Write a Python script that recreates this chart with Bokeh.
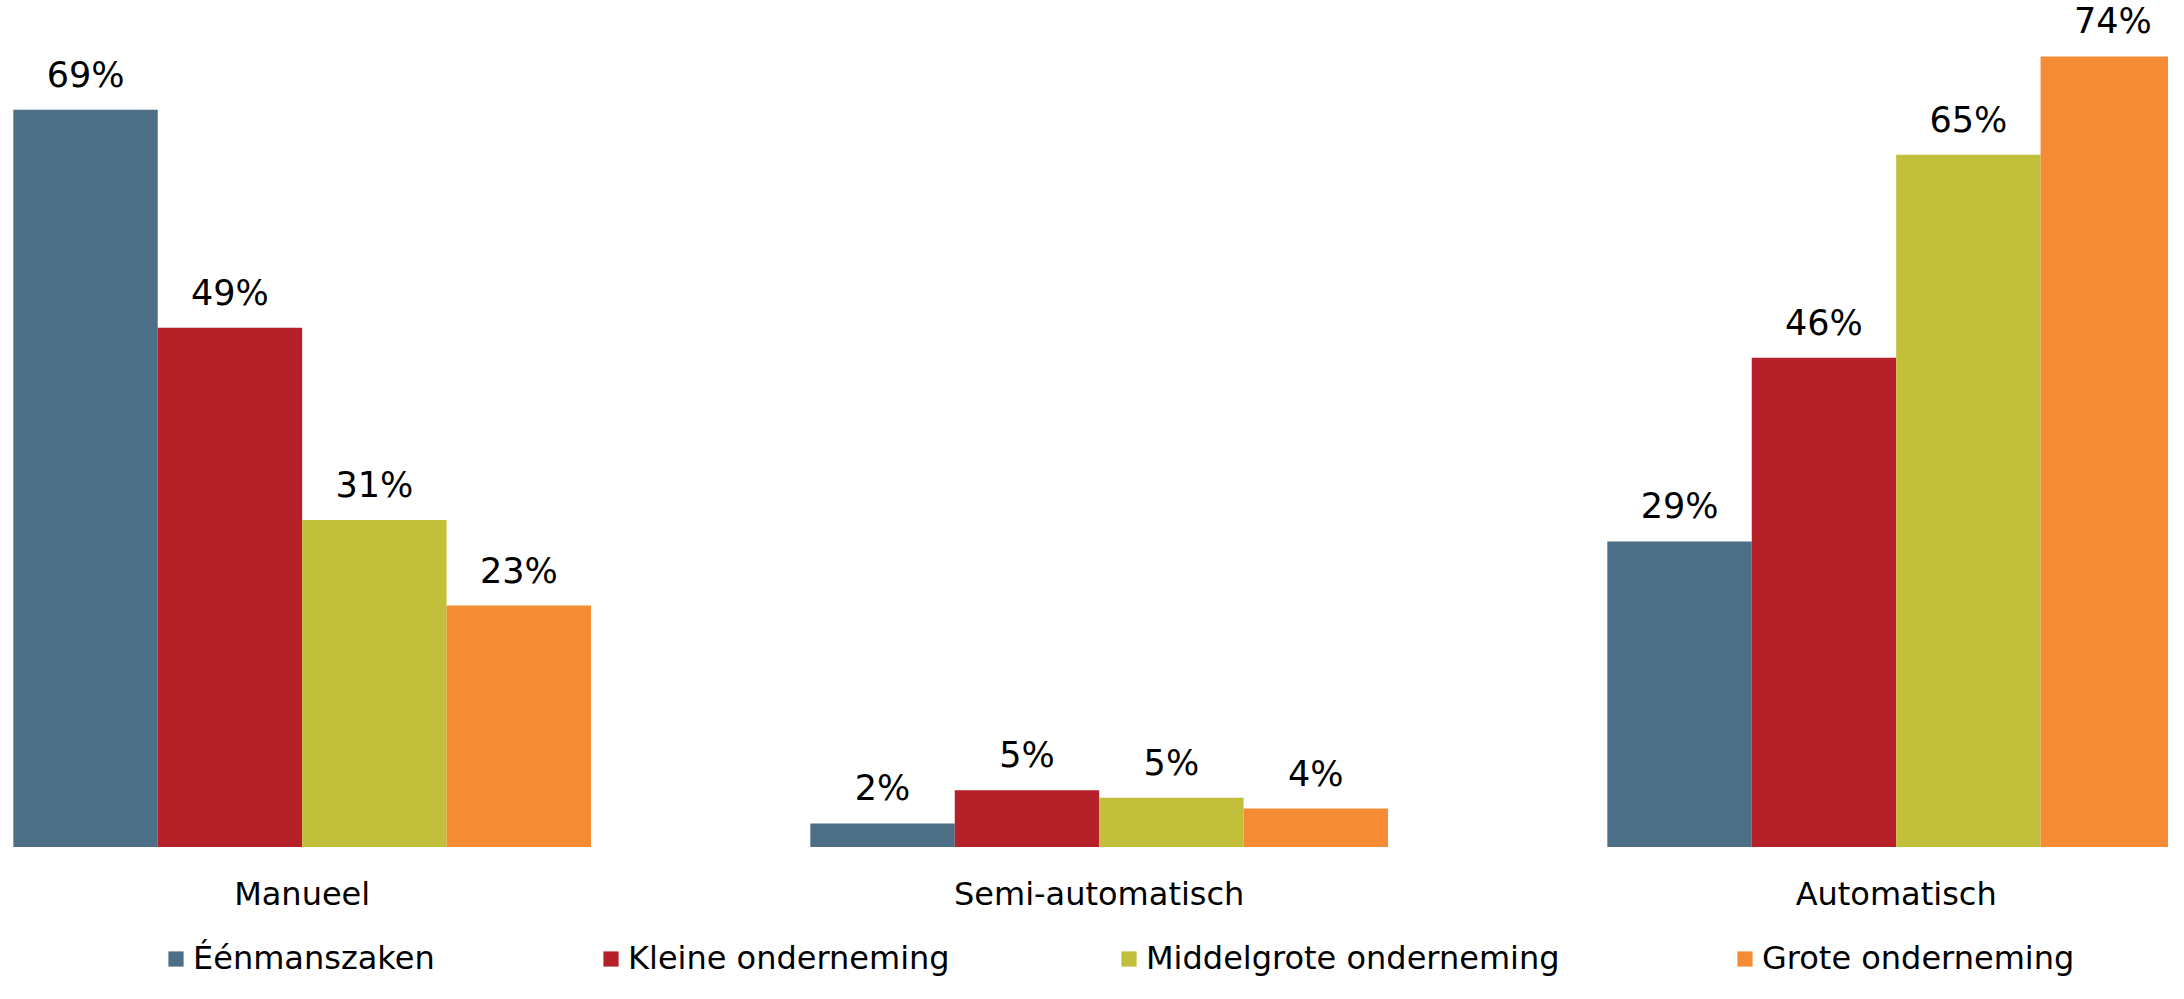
from bokeh.plotting import figure
from bokeh.models import Range1d, FixedTicker, Legend, LegendItem, ColumnDataSource
from bokeh.core.properties import value
from bokeh.embed import file_html
from bokeh.resources import INLINE

categories = ["Manueel", "Semi-automatisch", "Automatisch"]
series_names = ["Éénmanszaken", "Kleine onderneming", "Middelgrote onderneming", "Grote onderneming"]
eenmanszaken = [69.0, 2.2, 28.6]
kleine = [48.6, 5.3, 45.8]
middelgrote = [30.6, 4.6, 64.8]
grote = [22.6, 3.6, 74.0]
colors = ["#4D6E87", "#B52029", "#C2BF3A", "#F58C35"]

series_values = [eenmanszaken, kleine, middelgrote, grote]

FONT = "DejaVu Sans"
W, H = 2168, 983
p = figure(width=W, height=H, output_backend="svg", toolbar_location=None,
           x_range=Range1d(-0.3785, 2.3417), y_range=Range1d(-12.78, 79.23),
           min_border=0, y_axis_location=None)
p.outline_line_color = None
p.xgrid.visible = False
p.ygrid.visible = False
p.background_fill_color = "white"
p.border_fill_color = "white"

bw = 0.1812
cat_idx = list(range(len(categories)))
renderers = []
for j, (name, vals, col) in enumerate(zip(series_names, series_values, colors)):
    xs = [i + (j - 1.5) * bw for i in cat_idx]
    src = ColumnDataSource(dict(x=xs, top=vals, lab=[f"{round(v)}%" for v in vals]))
    r = p.vbar(x="x", top="top", bottom=0, width=bw, source=src, fill_color=col, line_color=None)
    renderers.append(r)
    p.text(x="x", y="top", text="lab", source=src, text_align="center", text_baseline="bottom",
           y_offset=-15, text_font=value(FONT), text_font_size="35px", text_color="black")

ax = p.xaxis[0]
ax.ticker = FixedTicker(ticks=cat_idx)
ax.major_label_overrides = {i: c for i, c in zip(cat_idx, categories)}
ax.fixed_location = 0
ax.axis_line_color = None
ax.major_tick_line_color = None
ax.minor_tick_line_color = None
ax.major_label_standoff = 22
ax.major_label_text_font = FONT
ax.major_label_text_font_size = "32px"
ax.major_label_text_color = "black"

leg_x = [166, 601, 1119, 1735]
for r, name, lx in zip(renderers, series_names, leg_x):
    leg = Legend(items=[LegendItem(label=name, renderers=[r])], location=(lx, 6),
                 orientation="horizontal", border_line_color=None, background_fill_alpha=0,
                 padding=0, margin=0, glyph_width=19, glyph_height=19, label_standoff=8,
                 label_text_font=FONT, label_text_font_size="32px",
                 label_text_color="black")
    p.add_layout(leg, "center")

open("out.html", "w").write(file_html(p, INLINE))
